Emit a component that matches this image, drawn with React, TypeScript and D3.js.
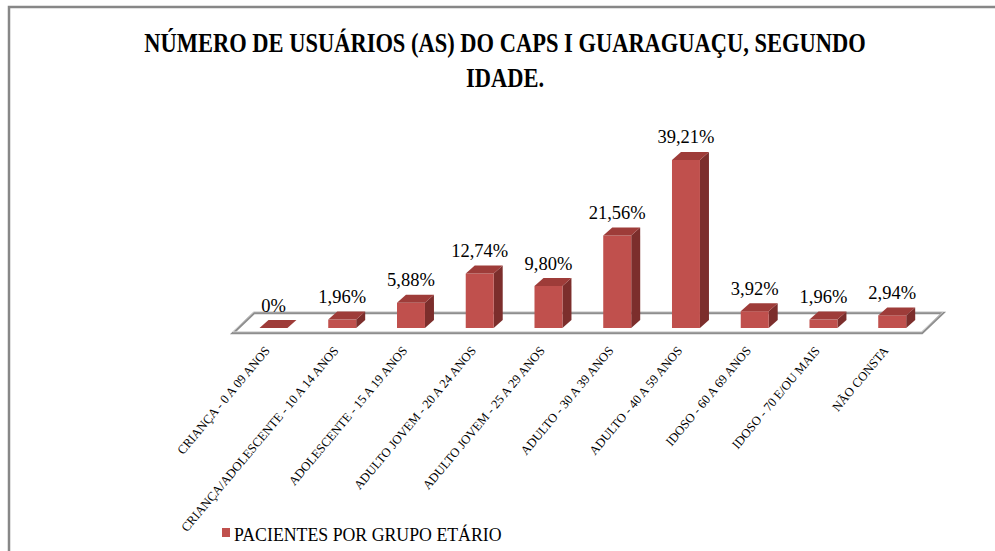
import React from "react";
import * as d3 from "d3";

const categories = [
  "CRIANÇA - 0 A 09 ANOS",
  "CRIANÇA/ADOLESCENTE - 10 A 14 ANOS",
  "ADOLESCENTE - 15 A 19 ANOS",
  "ADULTO JOVEM - 20 A 24 ANOS",
  "ADULTO JOVEM - 25 A 29 ANOS",
  "ADULTO - 30 A 39 ANOS",
  "ADULTO - 40 A 59 ANOS",
  "IDOSO - 60 A 69 ANOS",
  "IDOSO - 70 E/OU MAIS",
  "NÃO CONSTA",
];
const values = [0, 1.96, 5.88, 12.74, 9.8, 21.56, 39.21, 3.92, 1.96, 2.94];
const valueLabels = ["0%", "1,96%", "5,88%", "12,74%", "9,80%", "21,56%", "39,21%", "3,92%", "1,96%", "2,94%"];
const titleLines = ["NÚMERO DE USUÁRIOS (AS) DO CAPS I GUARAGUAÇU, SEGUNDO", "IDADE."];
const seriesName = "PACIENTES POR GRUPO ETÁRIO";

const W = 995;
const H = 551;
const FRONT = "#C0504D";
const TOP = "#9E3C39";
const SIDE = "#7C2E2C";
const SERIF = "Liberation Serif, DejaVu Serif, serif";

export default function App() {
  const x = d3
    .scaleBand<string>()
    .domain(categories)
    .range([239.1, 926.6])
    .paddingInner(0.593)
    .paddingOuter(0.2965);
  const y = d3.scaleLinear().domain([0, 40]).range([328, 156.6]);
  const dx = 9;
  const dy = -8;
  const base = y(0);
  const bw = x.bandwidth();

  const floor = [
    [233, 333],
    [922, 333],
    [943, 313],
    [254, 313],
  ];
  const floorPath = d3.line()(floor as [number, number][]) + "Z";

  return (
    <svg
      width={W}
      height={H}
      style={{ position: "absolute", left: 0, top: 0, background: "#fff", fontFamily: SERIF }}
    >
      <rect x={0} y={0} width={W} height={H} fill="#fff" />
      <rect x={9} y={7} width={1200} height={800} fill="none" stroke="#878787" strokeWidth={2.5} />

      {titleLines.map((t, i) => (
        <text
          key={i}
          transform={`translate(505,${52 + i * 35}) scale(1,1.18)`}
          textAnchor="middle"
          style={{ fontFamily: SERIF }}
          fontWeight="bold"
          fontSize={22.5}
          fill="#000"
        >
          {t}
        </text>
      ))}

      <path d={floorPath} fill="#fff" stroke="#8e8e8e" strokeWidth={2.5} />
      <path d={floorPath} fill="none" stroke="#d9d9d9" strokeWidth={0.8} transform="translate(0,-1.2)" />

      {categories.map((c, i) => {
        const x0 = x(c)!;
        const yt = y(values[i]);
        const front = `M${x0},${base}L${x0 + bw},${base}L${x0 + bw},${yt}L${x0},${yt}Z`;
        const top = `M${x0},${yt}L${x0 + bw},${yt}L${x0 + bw + dx},${yt + dy}L${x0 + dx},${yt + dy}Z`;
        const side = `M${x0 + bw},${base}L${x0 + bw + dx},${base + dy}L${x0 + bw + dx},${yt + dy}L${x0 + bw},${yt}Z`;
        return (
          <g key={c}>
            {values[i] > 0 && <path d={side} fill={SIDE} />}
            {values[i] > 0 && <path d={front} fill={FRONT} />}
            <path d={top} fill={TOP} />
            <text
              x={x0 + bw / 2}
              y={yt + dy - 8.5}
              textAnchor="middle"
              style={{ fontFamily: SERIF }}
              fontSize={18.5}
              fill="#000"
            >
              {valueLabels[i]}
            </text>
          </g>
        );
      })}

      {categories.map((c) => {
        const cx = x(c)! + bw / 2;
        return (
          <text
            key={"l" + c}
            transform={`translate(${cx - 3},${351}) rotate(-50)`}
            textAnchor="end"
            style={{ fontFamily: SERIF }}
            fontSize={12.6}
            fill="#000"
          >
            {c}
          </text>
        );
      })}

      <rect x={222} y={528} width={8} height={9} fill={FRONT} />
      <text x={234} y={541} style={{ fontFamily: SERIF }} fontSize={17.8} fill="#000">
        {seriesName}
      </text>
    </svg>
  );
}
